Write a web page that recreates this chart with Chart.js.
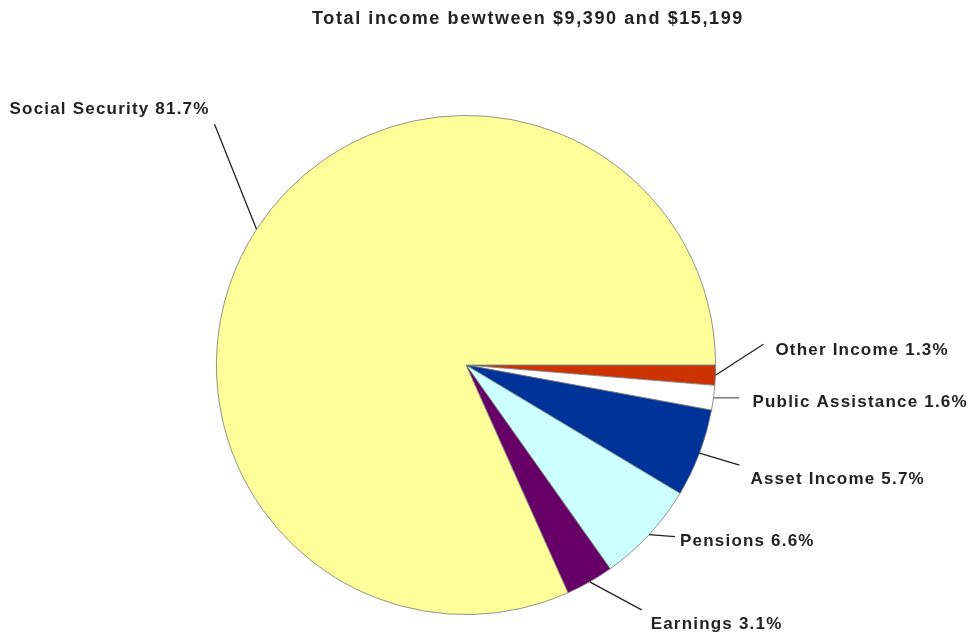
<!DOCTYPE html>
<html><head><meta charset="utf-8">
<script src="https://cdn.jsdelivr.net/npm/chart.js@4.4.1/dist/chart.umd.min.js"></script>
<style>html,body{margin:0;padding:0;background:#fff}#wrap{width:976px;height:638px}</style>
</head><body><div id="wrap"><canvas id="c" width="976" height="638"></canvas></div>
<script>
const titleText = 'Total income bewtween $9,390 and $15,199';
// clockwise from 3 o'clock
const categories = ['Other Income', 'Public Assistance', 'Asset Income', 'Pensions', 'Earnings', 'Social Security'];
const values = [1.3, 1.6, 5.7, 6.6, 3.1, 81.7];
const colors = ['#CC3300', '#FFFFFF', '#003399', '#CCFFFF', '#660066', '#FFFF99'];
// leader-line elbow offsets and label placement (style only)
const leaderOffsets = [[48,-31],[26,0],[40,12],[26,2],[52,28],[-42,-105]];
const labelShift = [[12,11],[13,9],[11,19],[5,9],[9,19],[-5,-10]];

const labelPlugin = {
  id: 'labels',
  afterDraw(chart) {
    const ctx = chart.ctx;
    ctx.save();
    ctx.fillStyle = '#222';
    ctx.font = 'bold 18px "Liberation Sans", Arial, sans-serif';
    ctx.letterSpacing = '1.6px';
    ctx.textAlign = 'center';
    ctx.textBaseline = 'alphabetic';
    ctx.fillText(titleText, 528, 24);
    const meta = chart.getDatasetMeta(0);
    ctx.font = 'bold 17px "Liberation Sans", Arial, sans-serif';
    ctx.letterSpacing = '1.2px';
    meta.data.forEach((arc, i) => {
      const mid = (arc.startAngle + arc.endAngle) / 2;
      const sx = arc.x + Math.cos(mid) * arc.outerRadius;
      const sy = arc.y + Math.sin(mid) * arc.outerRadius;
      const ex = sx + leaderOffsets[i][0];
      const ey = sy + leaderOffsets[i][1];
      ctx.strokeStyle = i === 1 ? '#666' : '#222';
      ctx.lineWidth = 1.3;
      ctx.beginPath(); ctx.moveTo(sx, sy); ctx.lineTo(ex, ey); ctx.stroke();
      const txt = categories[i] + ' ' + values[i].toFixed(1) + '%';
      ctx.textAlign = leaderOffsets[i][0] < 0 ? 'right' : 'left';
      ctx.fillText(txt, ex + labelShift[i][0], ey + labelShift[i][1]);
    });
    ctx.restore();
  }
};

new Chart(document.getElementById('c'), {
  type: 'pie',
  data: { labels: categories, datasets: [{ data: values, backgroundColor: colors, borderColor: '#777', borderWidth: 0.8 }] },
  options: {
    responsive: false, animation: false, rotation: 90,
    layout: { padding: { top: 115, bottom: 23, left: 216, right: 260 } },
    plugins: { legend: { display: false }, tooltip: { enabled: false } }
  },
  plugins: [labelPlugin]
});
</script></body></html>
